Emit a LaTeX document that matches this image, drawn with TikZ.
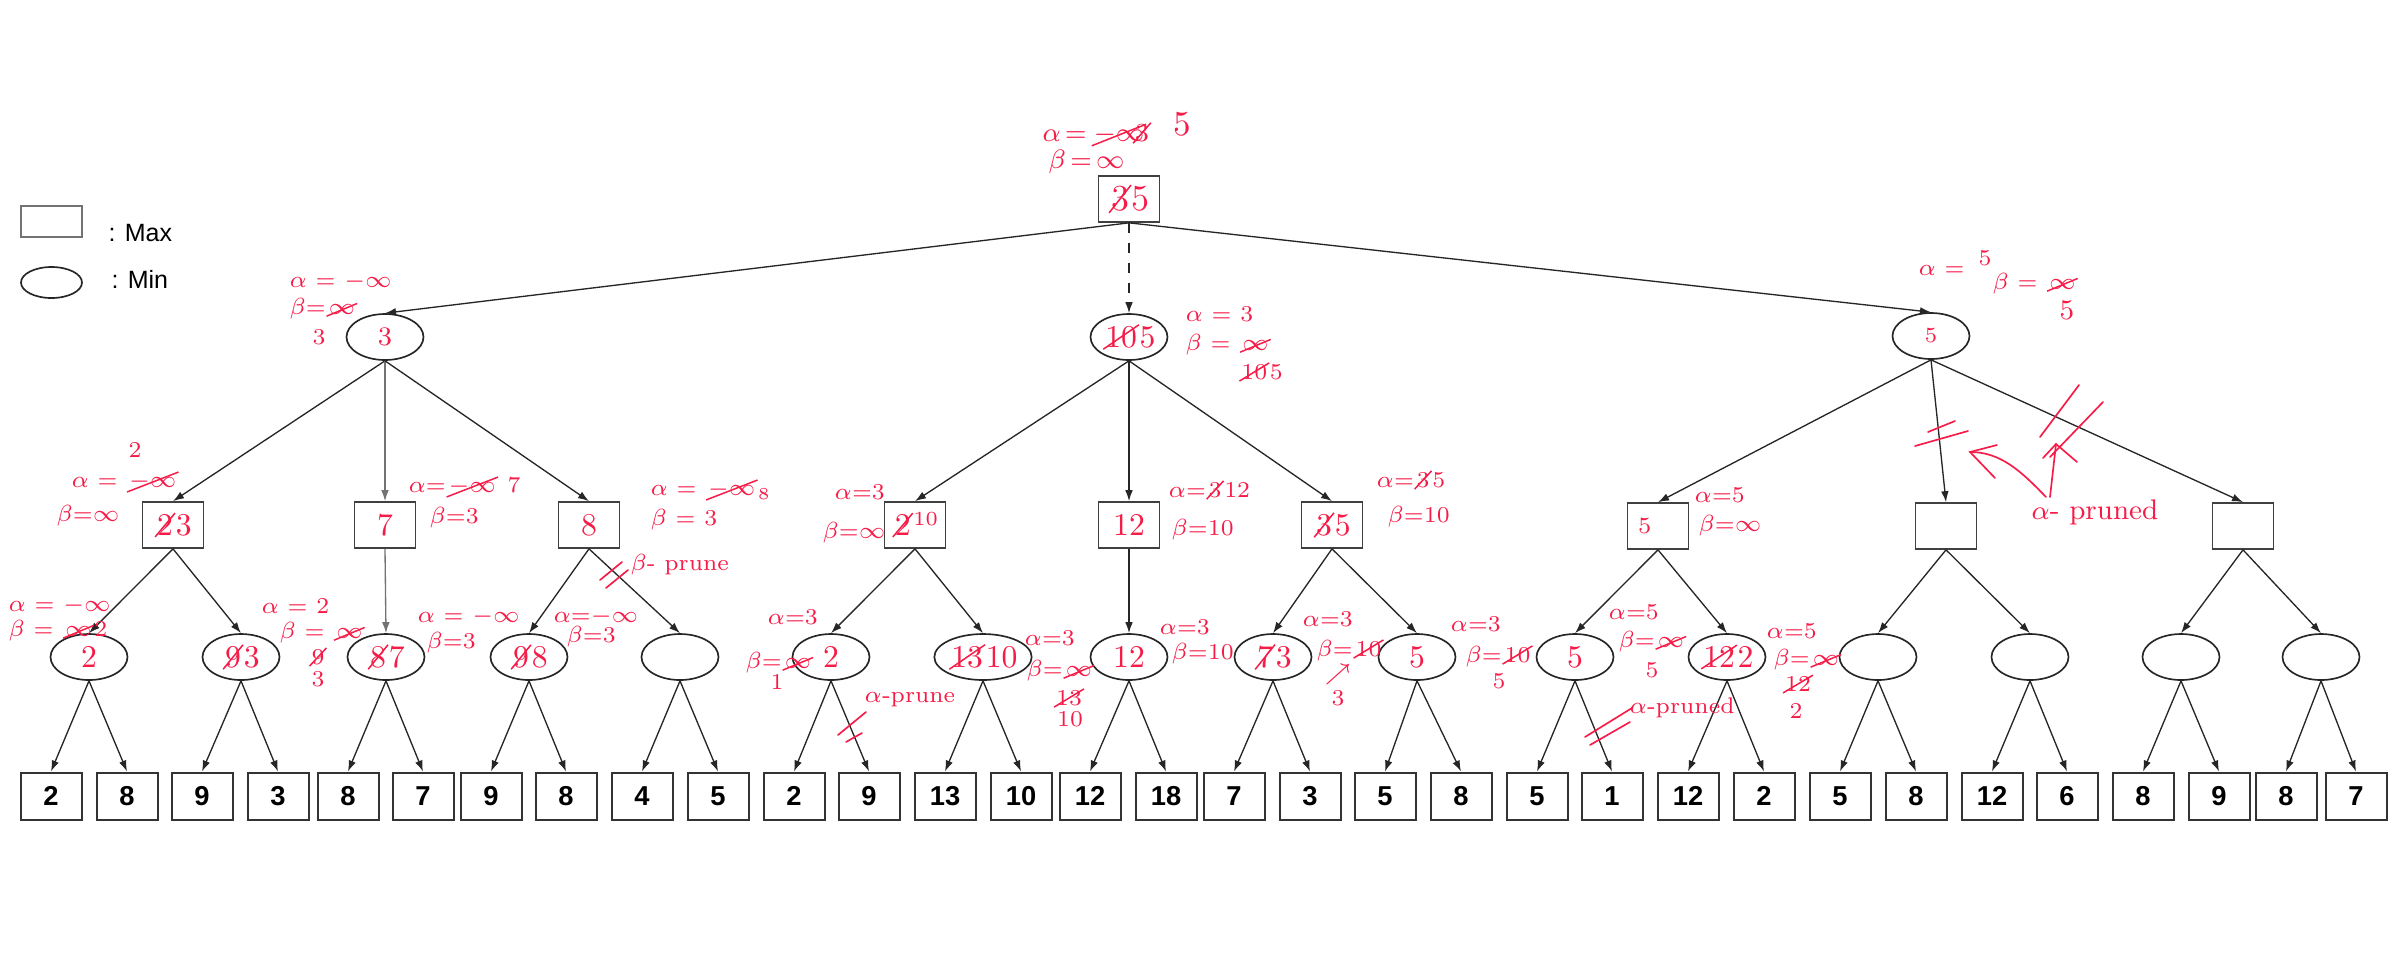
\documentclass[tikz,border=0pt]{standalone}
\usepackage{fontspec}
\setsansfont{Liberation Sans}
\usetikzlibrary{shapes.geometric,arrows.meta}
\definecolor{annot}{RGB}{246,28,72}
\newcommand\strk[1]{\tikz[baseline=(S.base)]{\node[shape=rectangle, draw=none, fill=none, minimum width=0pt, minimum height=0pt, inner sep=0pt, outer sep=0pt](S){#1};\draw[annot,line width=0.45pt]([xshift=-0.6pt,yshift=-0.4pt]S.south west)--([xshift=0.6pt,yshift=0.4pt]S.north east);}}
\tikzset{
  maxbox/.style={draw=black!75, fill=white, line width=0.5pt, minimum width=18.3pt, minimum height=13.8pt, inner sep=0pt, text=annot, font=\fontsize{9.5}{10}\selectfont},
  minell/.style={ellipse, draw=black!85, fill=white, line width=0.5pt, minimum width=23.1pt, minimum height=13.8pt, inner sep=0pt, text=annot, font=\fontsize{9.5}{10}\selectfont},
  leaf/.style={draw=black!80, fill=white, line width=0.6pt, minimum width=18.3pt, minimum height=14.1pt, inner sep=0pt, font=\sffamily\bfseries\fontsize{8.2}{10}\selectfont},
  conn/.style={draw=black!85, line width=0.4pt, -{Latex[length=3.3pt,width=2.3pt]}},
  lconn/.style={conn, draw=black!55},
  ann/.style={text=annot, font=\fontsize{6.8}{8}\selectfont, inner sep=0pt},
  annw/.style={ann, anchor=west},
  pmark/.style={draw=annot, line width=0.5pt, line cap=round}
}
\begin{document}
\begin{tikzpicture}[x=0.3pt,y=-0.3pt]
\useasboundingbox (0,0) rectangle (2400,960);
% legend
\node[draw=black!55, line width=0.4pt, minimum width=18.3pt, minimum height=9.3pt, inner sep=0pt] (legmax) at (51.5,221.5) {};
\node[anchor=west, font=\sffamily\fontsize{7.5}{9}\selectfont, inner sep=0pt] (legmaxt) at (108,233) {: Max};
\node[ellipse, draw=black!85, line width=0.5pt, minimum width=18.3pt, minimum height=9.3pt, inner sep=0pt] (legmin) at (51.5,282.5) {};
\node[anchor=west, font=\sffamily\fontsize{7.5}{9}\selectfont, inner sep=0pt] (legmint) at (111,279) {: Min};

% tree nodes
\node[maxbox, font=\fontsize{11}{12}\selectfont] (root) at (1129,199) {\strk{3}5};
\node[minell, font=\fontsize{8}{9}\selectfont] (mA) at (385,337) {3};
\node[minell] (mB) at (1129,337) {\strk{10}5};
\node[minell, font=\fontsize{6.5}{8}\selectfont] (mC) at (1931,336) {5};

\node[maxbox] (a1) at (173,525) {\strk{2}3};
\node[maxbox] (a2) at (385,525) {7};
\node[maxbox] (a3) at (589,525) {8};
\node[maxbox] (b1) at (915,525) {\strk{2}\raisebox{3pt}{\fontsize{6}{7}\selectfont 10}};
\node[maxbox] (b2) at (1129,525) {12};
\node[maxbox] (b3) at (1332,525) {\strk{3}5};
\node[maxbox, font=\fontsize{7}{8}\selectfont] (c1) at (1658,526) {\hspace*{-8pt}5};
\node[maxbox] (c2) at (1946,526) {};
\node[maxbox] (c3) at (2243,526) {};

\node[minell] (n1) at (89,657) {2};
\node[minell] (n2) at (241,657) {\strk{9}3};
\node[minell] (n3) at (386,657) {\strk{8}7};
\node[minell] (n4) at (529,657) {\strk{9}8};
\node[minell] (n5) at (680,657) {};
\node[minell] (n6) at (831,657) {2};
\node[minell] (n7) at (983,657) {\strk{13}10};
\node[minell] (n8) at (1129,657) {12};
\node[minell] (n9) at (1273,657) {\strk{7}3};
\node[minell] (n10) at (1417,657) {5};
\node[minell] (n11) at (1575,657) {5};
\node[minell] (n12) at (1727,657) {\strk{12}2};
\node[minell] (n13) at (1878,657) {};
\node[minell] (n14) at (2030,657) {};
\node[minell] (n15) at (2181,657) {};
\node[minell] (n16) at (2321,657) {};

\foreach \x/\v [count=\i] in {51/2,127/8,202/9,278/3,348/8,423/7,491/9,566/8,642/4,718/5,794/2,869/9,945/13,1021/10,1090/12,1166/18,1234/7,1310/3,1385/5,1461/8,1537/5,1612/1,1688/12,1764/2,1840/5,1916/8,1992/12,2067/6,2143/8,2219/9,2286/8,2356/7}
  \node[leaf] (l\i) at (\x,796) {\v};

% connectors
\draw[conn] (root.south) -- (mA.north);
\draw[conn, dashed] (root.south) -- (mB.north);
\draw[conn] (root.south) -- (mC.north);
\draw[conn] (mA.south) -- (a1.north);
\draw[lconn] (mA.south) -- (a2.north);
\draw[conn] (mA.south) -- (a3.north);
\draw[conn] (mB.south) -- (b1.north);
\draw[conn] (mB.south) -- (b2.north);
\draw[conn] (mB.south) -- (b3.north);
\draw[conn] (mC.south) -- (c1.north);
\draw[conn] (mC.south) -- (c2.north);
\draw[conn] (mC.south) -- (c3.north);
\draw[conn] (a1.south) -- (n1.north);
\draw[conn] (a1.south) -- (n2.north);
\draw[lconn] (a2.south) -- (n3.north);
\draw[conn] (a3.south) -- (n4.north);
\draw[conn] (a3.south) -- (n5.north);
\draw[conn] (b1.south) -- (n6.north);
\draw[conn] (b1.south) -- (n7.north);
\draw[conn] (b2.south) -- (n8.north);
\draw[conn] (b3.south) -- (n9.north);
\draw[conn] (b3.south) -- (n10.north);
\draw[conn] (c1.south) -- (n11.north);
\draw[conn] (c1.south) -- (n12.north);
\draw[conn] (c2.south) -- (n13.north);
\draw[conn] (c2.south) -- (n14.north);
\draw[conn] (c3.south) -- (n15.north);
\draw[conn] (c3.south) -- (n16.north);
\foreach \i [evaluate=\i as \a using int(2*\i-1), evaluate=\i as \b using int(2*\i)] in {1,...,16} {
  \draw[conn] (n\i.south) -- (l\a.north);
  \draw[conn] (n\i.south) -- (l\b.north);
}

% annotations: root
\node[annw, font=\fontsize{7.8}{9}\selectfont] (r1) at (1042,135) {$\alpha$\,=\,\strk{$-\infty$}};
\node[ann, font=\fontsize{7.8}{9}\selectfont] (r2) at (1142,133) {\strk{3}};
\node[ann, font=\fontsize{10.5}{12}\selectfont] (r3) at (1182,124) {5};
\node[annw, font=\fontsize{7.8}{9}\selectfont] (r4) at (1048,162) {$\beta$\,=\,$\infty$};
% mA
\node[annw] (pa1) at (289,282) {$\alpha$ = $-\infty$};
\node[annw] (pa2) at (289,309) {$\beta$=\strk{$\infty$}};
\node[ann] (pa3) at (319,337) {3};
% mB
\node[annw] (pb1) at (1185,314) {$\alpha$ = 3};
\node[annw] (pb2) at (1185,345) {$\beta$ = \strk{$\infty$}};
\node[annw] (pb3) at (1238,372) {\strk{10}5};
% mC
\node[annw] (pc1) at (1918,270) {$\alpha$ =};
\node[ann] (pc2) at (1985,258) {5};
\node[annw] (pc3) at (1992,284) {$\beta$ = \strk{$\infty$}};
\node[ann, font=\fontsize{8.5}{9}\selectfont] (pc4) at (2067,310) {5};
\draw[pmark] (1915,446) -- (1968,431);
\draw[pmark] (1928,432) -- (1955,421);
\draw[pmark] (2040,437) -- (2079,385);
\draw[pmark] (2050,457) -- (2103,402);
\node[ann, font=\fontsize{8.5}{9}\selectfont] (pr) at (2095,512) {$\alpha$- pruned};
\coordinate (pr1) at (1970,452);
\coordinate (pr2) at (2056,444);
\draw[pmark] (2046,497) .. controls (2020,470) and (2000,452) .. (pr1);
\draw[pmark] (1997,445) -- (pr1) -- (1995,478);
\draw[pmark] (2050,497) -- (pr2);
\draw[pmark] (2043,458) -- (pr2) -- (2077,462);
% a1
\node[ann] (qa0) at (135,450) {2};
\node[annw] (qa1) at (71,482) {$\alpha$ = \strk{$-\infty$}};
\node[annw] (qa2) at (56,516) {$\beta$=$\infty$};
% a2
\node[annw] (qb1) at (408,487) {$\alpha$=\strk{$-\infty$} 7};
\node[annw] (qb2) at (429,518) {$\beta$=3};
% a3
\node[annw] (qc1) at (650,490) {$\alpha$ = \strk{$-\infty$}$_8$};
\node[annw] (qc2) at (650,520) {$\beta$ = 3};
\draw[pmark] (600,580) -- (622,562);
\draw[pmark] (606,588) -- (628,570);
\node[annw] (qc3) at (630,565) {$\beta$- prune};
% b1
\node[annw] (qd1) at (834,492) {$\alpha$=3};
\node[annw] (qd2) at (822,533) {$\beta$=$\infty$};
% b2
\node[annw] (qe1) at (1168,490) {$\alpha$=\strk{3}12};
\node[annw] (qe2) at (1171,530) {$\beta$=10};
% b3
\node[annw] (qf1) at (1376,480) {$\alpha$=\strk{3}5};
\node[annw] (qf2) at (1387,517) {$\beta$=10};
% c1
\node[annw] (qg1) at (1694,495) {$\alpha$=5};
\node[annw] (qg2) at (1698,526) {$\beta$=$\infty$};
% level 3
\node[annw] (s1a) at (8,606) {$\alpha$ = $-\infty$};
\node[annw] (s1b) at (8,631) {$\beta$ = \strk{$\infty$}2};
\node[annw] (s2a) at (261,606) {$\alpha$ = 2};
\node[annw] (s2b) at (279,633) {$\beta$ = \strk{$\infty$}};
\node[ann] (s2c) at (318,657) {\strk{9}};
\node[ann] (s2d) at (318,679) {3};
\node[annw] (s3a) at (417,617) {$\alpha$ = $-\infty$};
\node[annw] (s3b) at (426,643) {$\beta$=3};
\node[annw] (s4a) at (553,617) {$\alpha$=$-\infty$};
\node[annw] (s4b) at (566,637) {$\beta$=3};
\node[annw] (s6a) at (767,617) {$\alpha$=3};
\node[annw] (s6b) at (745,663) {$\beta$=\strk{$\infty$}};
\node[ann] (s6c) at (777,682) {1};
\draw[pmark] (838,735) -- (866,712);
\draw[pmark] (846,742) -- (862,733);
\node[annw] (s6d) at (864,700) {$\alpha$-prune};
\node[annw] (s7a) at (1024,638) {$\alpha$=3};
\node[annw] (s7b) at (1026,671) {$\beta$=\strk{$\infty$}};
\node[ann] (s7c) at (1069,698) {\strk{13}};
\node[ann] (s7d) at (1070,719) {10};
\node[annw] (s8a) at (1159,627) {$\alpha$=3};
\node[annw] (s8b) at (1171,654) {$\beta$=10};
\node[annw] (s9a) at (1302,619) {$\alpha$=3};
\node[annw] (s9b) at (1316,650) {$\beta$=\strk{10}};
\node[ann] (s9c) at (1338,675) {$\nearrow$};
\node[ann] (s9d) at (1338,698) {3};
\node[annw] (s10a) at (1450,624) {$\alpha$=3};
\node[annw] (s10b) at (1465,656) {$\beta$=\strk{10}};
\node[ann] (s10c) at (1499,681) {5};
\node[annw] (s11a) at (1608,612) {$\alpha$=5};
\node[annw] (s11b) at (1618,642) {$\beta$=\strk{$\infty$}};
\node[ann] (s11c) at (1652,670) {5};
\draw[pmark] (1585,737) -- (1632,708);
\draw[pmark] (1590,745) -- (1630,722);
\node[annw] (s11d) at (1629,708) {$\alpha$-pruned};
\node[annw] (s12a) at (1766,631) {$\alpha$=5};
\node[annw] (s12b) at (1773,660) {$\beta$=\strk{$\infty$}};
\node[ann] (s12c) at (1798,684) {\strk{12}};
\node[ann] (s12d) at (1796,711) {2};
\end{tikzpicture}
\end{document}
